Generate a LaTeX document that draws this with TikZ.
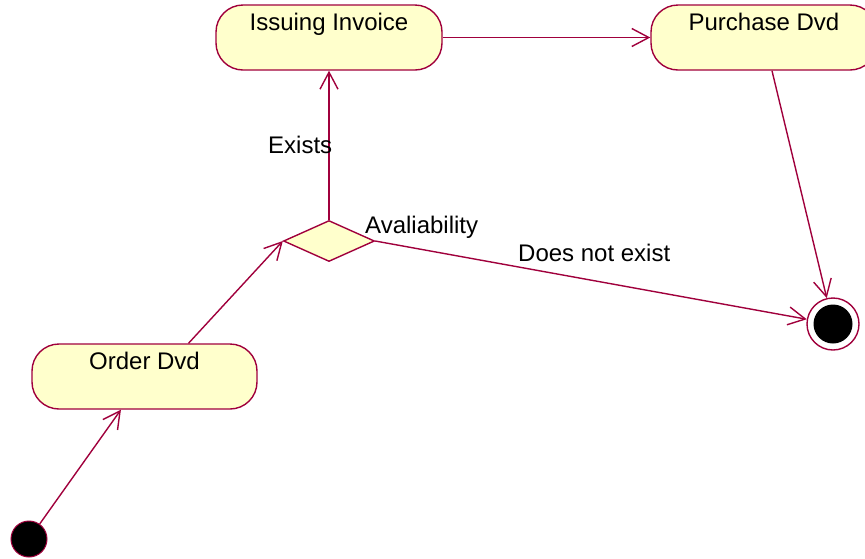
\documentclass[tikz,border=0pt]{standalone}
\usepackage{fontspec}
\setmainfont{Liberation Sans}
\usetikzlibrary{shapes.geometric,arrows.meta}

\definecolor{umlline}{RGB}{160,0,60}
\definecolor{umlfill}{RGB}{255,255,204}

\tikzset{
  activity/.style={draw=umlline, fill=umlfill, line width=1.4pt,
    rounded corners=27pt, minimum width=226pt, minimum height=65pt,
    inner xsep=0pt, inner ysep=0pt, text height=25pt, text depth=40pt,
    font=\fontsize{24}{28}\selectfont},
  decision/.style={diamond, draw=umlline, fill=umlfill, line width=1.4pt,
    minimum width=91pt, minimum height=41pt, inner sep=0pt, aspect=2.2},
  flow/.style={draw=umlline, line width=1.4pt,
    -{Straight Barb[length=17pt,width=18pt,line width=1.4pt]}},
  guard/.style={inner sep=0pt, font=\fontsize{24}{28}\selectfont},
}

\begin{document}
\begin{tikzpicture}[x=1pt,y=-1pt]
  \useasboundingbox (0,0) rectangle (865,558);
  \clip (0,0) rectangle (865,558);

  % activities
  \node[activity] (inv) at (329,37.5) {Issuing Invoice};
  \node[activity] (pur) at (764,37.5) {Purchase Dvd};
  \node[activity, minimum width=225pt] (ord) at (144.5,376.5) {Order Dvd};

  % decision
  \node[decision] (dia) at (329,241) {};

  % start and end states
  \node[circle, draw=umlline, fill=black, line width=1pt,
        minimum size=36pt, inner sep=0pt] (ini) at (29,539) {};
  \node[circle, draw=umlline, fill=white, line width=1.4pt,
        minimum size=52pt, inner sep=0pt] (fin) at (833,324) {};
  \node[circle, fill=black, minimum size=39pt, inner sep=0pt]
        (finc) at (fin.center) {};

  % transitions
  \draw[flow] (ini) -- (ord);
  \draw[flow] ([xshift=44pt]ord.north) -- (dia.west);
  \draw[flow] (dia.north) -- (inv.south);
  \draw[flow] (inv.east) -- (pur.west);
  \draw[flow] (pur) -- (fin);
  \draw[flow] (dia.east) -- (fin);

  % guard and decision labels
  \node[guard, anchor=base west] (lex) at (268,153) {Exists};
  \node[guard, anchor=base west] (lav) at (365,233) {Avaliability};
  \node[guard, anchor=base west] (lne) at (518,261) {Does not exist};
\end{tikzpicture}
\end{document}
